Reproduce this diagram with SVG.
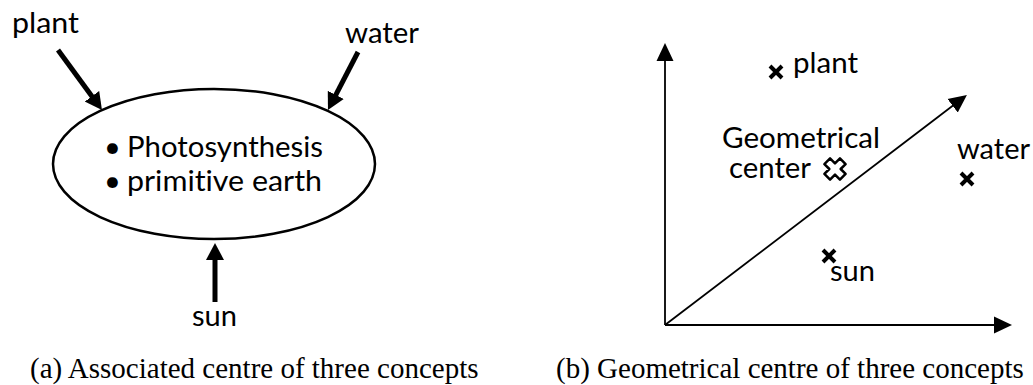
<svg xmlns="http://www.w3.org/2000/svg" width="1033" height="385" viewBox="0 0 1033 385">
<style>
.lbl{font-family:Lato,"Open Sans","Liberation Sans",sans-serif;font-size:29px;fill:#000;font-variant-ligatures:none}
.cap{font-family:"Liberation Serif","Times New Roman",serif;font-size:29px;fill:#000}
.thick{stroke:#000;stroke-width:5;fill:none;marker-end:url(#hbig)}
.thin{stroke:#000;stroke-width:1.8;fill:none;marker-end:url(#hsmall)}
.xm{stroke:#000;stroke-width:4;stroke-linecap:butt}
</style>
<defs>
<marker id="hbig" markerUnits="userSpaceOnUse" viewBox="0 -10 20 20" refX="3" refY="0" markerWidth="20" markerHeight="20" orient="auto"><path d="M0,-9 L17,0 L0,9 z" fill="#000"/></marker>
<marker id="hsmall" markerUnits="userSpaceOnUse" viewBox="0 -10 20 20" refX="3" refY="0" markerWidth="20" markerHeight="20" orient="auto"><path d="M0,-8.5 L18,0 L0,8.5 z" fill="#000"/></marker>
</defs>
<g id="concept-ellipse">
<ellipse cx="214" cy="164" rx="161" ry="75" fill="#fff" stroke="#000" stroke-width="2.5"/>
<text class="lbl" x="104" y="157">•</text>
<text class="lbl" x="127" y="157" textLength="196" lengthAdjust="spacingAndGlyphs">Photosynthesis</text>
<text class="lbl" x="104" y="191">•</text>
<text class="lbl" x="127" y="191" textLength="195" lengthAdjust="spacingAndGlyphs">primitive earth</text>
</g>
<g id="plant-a"><text class="lbl" x="12" y="33" textLength="67" lengthAdjust="spacingAndGlyphs">plant</text></g>
<g id="water-a"><text class="lbl" x="345" y="43" textLength="74" lengthAdjust="spacingAndGlyphs">water</text></g>
<g id="sun-a"><text class="lbl" x="192" y="326" textLength="45" lengthAdjust="spacingAndGlyphs">sun</text></g>
<g id="connectors">
<line class="thick" x1="58" y1="50" x2="93.7" y2="98.7"/>
<line class="thick" x1="358" y1="52" x2="334.4" y2="97.6"/>
<line class="thick" x1="215" y1="302" x2="215" y2="257"/>
<line class="thin" x1="665" y1="325" x2="665" y2="58"/>
<line class="thin" x1="665" y1="325" x2="997" y2="325"/>
<line class="thin" x1="665" y1="325" x2="955" y2="104"/>
</g>
<g id="plant-b">
<path class="xm" d="M770,66 L782,78 M782,66 L770,78"/>
<text class="lbl" x="793" y="73" textLength="65" lengthAdjust="spacingAndGlyphs">plant</text>
</g>
<g id="water-b">
<path class="xm" d="M961,173 L973,185 M973,173 L961,185"/>
<text class="lbl" x="957" y="159" textLength="73" lengthAdjust="spacingAndGlyphs">water</text>
</g>
<g id="sun-b">
<path class="xm" d="M823,250 L835,262 M835,250 L823,262"/>
<text class="lbl" x="830" y="281" textLength="45" lengthAdjust="spacingAndGlyphs">sun</text>
</g>
<g id="geometrical-center">
<text class="lbl" x="722" y="148" textLength="158" lengthAdjust="spacingAndGlyphs">Geometrical</text>
<text class="lbl" x="729" y="178" textLength="82" lengthAdjust="spacingAndGlyphs">center</text>
<polygon transform="translate(835,169) rotate(45)" points="-4,-11 4,-11 4,-4 11,-4 11,4 4,4 4,11 -4,11 -4,4 -11,4 -11,-4 -4,-4" fill="#fff" stroke="#000" stroke-width="2.5" stroke-linejoin="round"/>
</g>
<g id="captions">
<text class="cap" x="30" y="378">(a) Associated centre of three concepts</text>
<text class="cap" x="556" y="378">(b) Geometrical centre of three concepts</text>
</g>
</svg>
